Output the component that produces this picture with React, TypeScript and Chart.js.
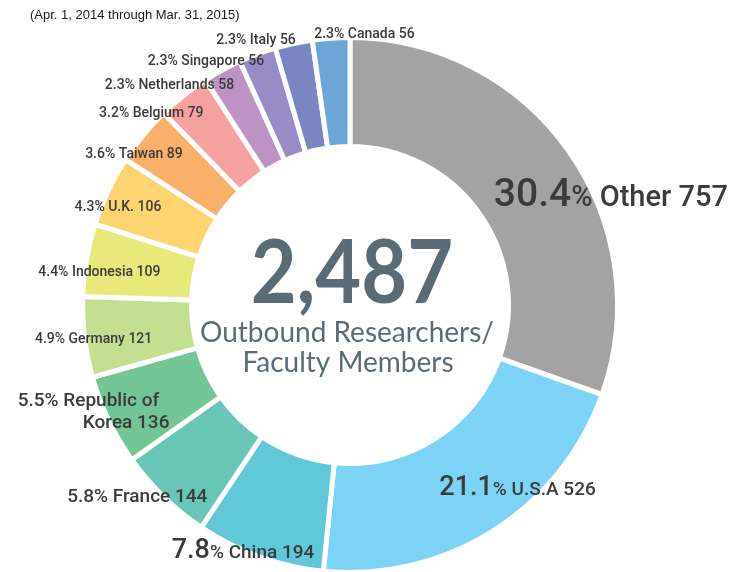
import React, { useEffect, useRef } from "react";
import { Chart, registerables } from "chart.js";

Chart.register(...registerables);

// ---- Data ----
const categories = [
  "Other",
  "U.S.A",
  "China",
  "France",
  "Republic of\nKorea",
  "Germany",
  "Indonesia",
  "U.K.",
  "Taiwan",
  "Belgium",
  "Netherlands",
  "Singapore",
  "Italy",
  "Canada",
];
const counts = [757, 526, 194, 144, 136, 121, 109, 106, 89, 79, 58, 56, 56, 56];
const percents = ["30.4", "21.1", "7.8", "5.8", "5.5", "4.9", "4.4", "4.3", "3.6", "3.2", "2.3", "2.3", "2.3", "2.3"];
const sliceColors = [
  "#A3A3A3",
  "#7DD3F5",
  "#61C8DA",
  "#69C5B5",
  "#72C595",
  "#C5DF92",
  "#E9E87A",
  "#FDD470",
  "#F8B06B",
  "#F5A1A0",
  "#BD93C5",
  "#998CC6",
  "#7A85C1",
  "#6CA6D8",
];
const subtitle = "(Apr. 1, 2014 through Mar. 31, 2015)";
const centerCaption = ["Outbound Researchers/", "Faculty Members"];

// ---- Label layout (polar, relative to chart centre; r in units of visible outer radius) ----
const labelLayout: { lines: { a: number; r: number }[]; pct: number; txt: number }[] = [
  { lines: [{ a: 69.2, r: 1.053 }], pct: 39, txt: 29 },
  { lines: [{ a: 138.6, r: 0.956 }], pct: 27, txt: 19 },
  { lines: [{ a: -157.1, r: 1.037 }], pct: 27, txt: 19 },
  { lines: [{ a: -132.8, r: 1.094 }], pct: 19, txt: 19 },
  { lines: [{ a: -111.1, r: 1.058 }, { a: -118.8, r: 0.964 }], pct: 19, txt: 19 },
  { lines: [{ a: -98.4, r: 0.978 }], pct: 14, txt: 14 },
  { lines: [{ a: -83.4, r: 0.952 }], pct: 14, txt: 14 },
  { lines: [{ a: -67.9, r: 0.945 }], pct: 14, txt: 14 },
  { lines: [{ a: -55.8, r: 0.986 }], pct: 14, txt: 14 },
  { lines: [{ a: -46.6, r: 1.032 }], pct: 14, txt: 14 },
  { lines: [{ a: -39.9, r: 1.062 }], pct: 14, txt: 14 },
  { lines: [{ a: -31.0, r: 1.056 }], pct: 14, txt: 14 },
  { lines: [{ a: -19.8, r: 1.047 }], pct: 14, txt: 14 },
  { lines: [{ a: 3.1, r: 1.009 }], pct: 14, txt: 14 },
];

const BORDER = 5;
const LABEL_FONT = "Roboto, 'DejaVu Sans', sans-serif";
const CENTER_FONT = "Lato, 'Open Sans', sans-serif";

const labelsPlugin = {
  id: "customLabels",
  afterDraw(chart: any) {
    const meta = chart.getDatasetMeta(0);
    const arc0 = meta.data[0];
    if (!arc0) return;
    const ctx: CanvasRenderingContext2D = chart.ctx;
    const cx = arc0.x;
    const cy = arc0.y;
    const R = arc0.outerRadius - BORDER / 2;
    ctx.save();

    // subtitle
    ctx.fillStyle = "#1a1a1a";
    ctx.font = "13px 'Liberation Sans', Arial, sans-serif";
    ctx.textAlign = "left";
    ctx.textBaseline = "alphabetic";
    ctx.fillText(subtitle, 30, 19);

    // slice labels
    ctx.fillStyle = "#3b3b3b";
    categories.forEach((cat, i) => {
      const lay = labelLayout[i];
      const names = cat.split("\n");
      lay.lines.forEach((ln, li) => {
        const segs: { t: string; s: number }[] = [];
        if (li === 0) {
          segs.push({ t: percents[i], s: lay.pct });
          let rest = "% " + names[0];
          if (names.length === 1) rest += " " + counts[i];
          segs.push({ t: rest, s: lay.txt });
        } else {
          segs.push({ t: names[li] + (li === names.length - 1 ? " " + counts[i] : ""), s: lay.txt });
        }
        const rad = (ln.a * Math.PI) / 180;
        const ax = cx + Math.sin(rad) * ln.r * R;
        const ay = cy - Math.cos(rad) * ln.r * R;
        let total = 0;
        const widths = segs.map((sg) => {
          ctx.font = `500 ${sg.s}px ${LABEL_FONT}`;
          const w = ctx.measureText(sg.t).width;
          total += w;
          return w;
        });
        let x = ax - total / 2;
        segs.forEach((sg, k) => {
          ctx.font = `500 ${sg.s}px ${LABEL_FONT}`;
          ctx.textAlign = "left";
          ctx.fillText(sg.t, x, ay);
          x += widths[k];
        });
      });
    });

    // centre text
    const total = counts.reduce((a, b) => a + b, 0);
    ctx.fillStyle = "#5A6B76";
    ctx.textAlign = "center";
    ctx.save();
    ctx.translate(cx + 2, cy - 2);
    ctx.scale(0.9, 1);
    ctx.font = `700 88px ${CENTER_FONT}`;
    ctx.fillText(total.toLocaleString("en-US"), 0, 0);
    ctx.restore();
    ctx.font = `400 28px ${CENTER_FONT}`;
    ctx.fillText(centerCaption[0], cx - 3, cy + 37);
    ctx.fillText(centerCaption[1], cx - 2, cy + 67);
    ctx.restore();
  },
};

export default function App() {
  const ref = useRef<HTMLCanvasElement | null>(null);
  useEffect(() => {
    if (!ref.current) return;
    const chart = new Chart(ref.current, {
      type: "doughnut",
      data: {
        labels: categories.map((c) => c.replace("\n", " ")),
        datasets: [
          {
            data: counts,
            backgroundColor: sliceColors,
            borderColor: "#ffffff",
            borderWidth: BORDER,
            clip: false as any,
          },
        ],
      },
      options: {
        responsive: false,
        animation: false,
        radius: 267.5,
        cutout: "59.25%",
        layout: { padding: { left: 0, right: 45, top: 38, bottom: 0 } },
        plugins: {
          legend: { display: false },
          tooltip: { enabled: false },
          title: { display: false },
        },
      } as any,
      plugins: [labelsPlugin],
    });
    return () => chart.destroy();
  }, []);
  return (
    <div style={{ position: "absolute", left: 0, top: 0, width: 745, height: 572, background: "#fff" }}>
      <canvas ref={ref} width={745} height={572} />
    </div>
  );
}
